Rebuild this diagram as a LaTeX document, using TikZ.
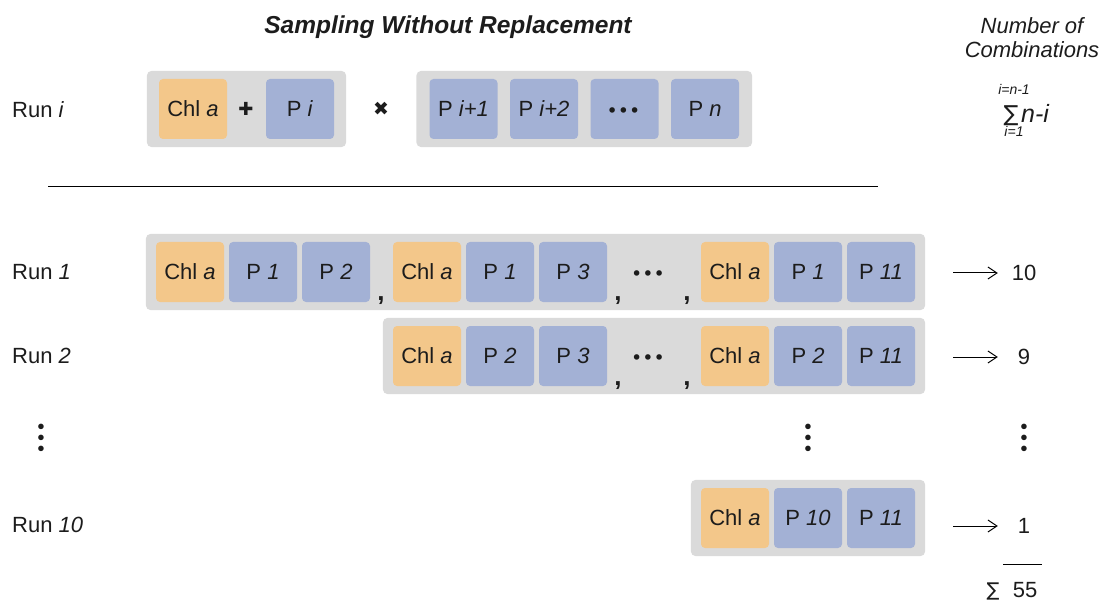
\documentclass[tikz,border=0pt]{standalone}
\usepackage{fontspec}
\setmainfont{Liberation Sans}
\newfontfamily\symfont{DejaVu Sans}
\usetikzlibrary{fit,backgrounds,arrows.meta}

\definecolor{chlcol}{RGB}{243,199,138}
\definecolor{pcol}{RGB}{163,177,213}
\definecolor{grpcol}{RGB}{218,218,218}
\definecolor{txtcol}{RGB}{28,28,28}

\begin{document}
\begin{tikzpicture}[x = 1pt, y = -1pt,
	every node/.style = {text = txtcol, font = \fontsize{22}{24}\selectfont},
	cell/.style = {rounded corners = 4pt, minimum width = 68pt, minimum height = 60pt, inner sep = 0pt},
	chl/.style = {cell, fill = chlcol},
	pig/.style = {cell, fill = pcol},
	grp/.style = {fill = grpcol, rounded corners = 5pt, inner xsep = 10pt, inner ysep = 8pt},
	lbl/.style = {anchor = west, inner sep = 0pt},
	sep/.style = {font = \fontsize{26}{26}\selectfont\bfseries, anchor = base, inner sep = 0pt},
	dotrow/.style = {font = \fontsize{19}{19}\selectfont\symfont, inner sep = 0pt},
	dotcol/.style = {dotrow, rotate = 90},
	cnt/.style = {minimum width = 52pt, inner sep = 0pt},
	cntarrow/.style = {-{Straight Barb[length = 9pt, width = 12pt]}, line width = 1pt}]
	\useasboundingbox (0,0) rectangle (1107,601);
	
	% headings
	\node[font = \fontsize{24.5}{26}\selectfont\bfseries\itshape](title) at (448,27) {Sampling Without Replacement};
	\node[align = center, font = \fontsize{22}{24}\selectfont\itshape](head) at (1032,38) {Number of\\Combinations};
	\node[font = \fontsize{22}{22}\selectfont\symfont](sumsym) at (1011,116) {∑};
	\node[anchor = west, inner sep = 0pt, font = \fontsize{25}{26}\selectfont\itshape](sumterm) at (1021,113) {n-i};
	\node[font = \fontsize{14}{14}\selectfont\itshape](sumup) at (1014,89) {i=n-1};
	\node[font = \fontsize{14}{14}\selectfont\itshape](sumlow) at (1014,131) {i=1};
	
	% run i
	\node[lbl](runi) at (12,110) {Run \textit{i}};
	\node[chl](chli) at (193,109) {Chl \textit{a}};
	\node[font = \fontsize{18}{18}\selectfont\symfont](plus) at (246,109) {✚};
	\node[pig](pi) at (300,109) {P \textit{i}};
	\node[font = \fontsize{19}{19}\selectfont\symfont](times) at (381,109) {✖};
	\node[pig](pia) at (463.5,109) {P \textit{i+1}};
	\node[pig](pib) at (544,109) {P \textit{i+2}};
	\node[pig](pidots) at (624.5,109) {};
	\node[dotrow](dia) at (623.5,113) {•••};
	\node[pig](pn) at (705,109) {P \textit{n}};
	
	\coordinate[](ruleL) at (48,186);
	\coordinate[](ruleR) at (878,186);
	\draw[line width = 0.9pt] (ruleL) -- (ruleR);
	
	% run 1
	\node[lbl](runa) at (12,272) {Run \textit{1}};
	\node[chl](ca1) at (190,272) {Chl \textit{a}};
	\node[pig](pa1) at (263,272) {P \textit{1}};
	\node[pig](pa2) at (336,272) {P \textit{2}};
	\node[sep](ka1) at (381,301) {,};
	\node[chl](ca2) at (427,272) {Chl \textit{a}};
	\node[pig](pa3) at (500,272) {P \textit{1}};
	\node[pig](pa4) at (573,272) {P \textit{3}};
	\node[sep](ka2) at (618,301) {,};
	\node[dotrow](da) at (648,276) {•••};
	\node[sep](ka3) at (687,301) {,};
	\node[chl](ca3) at (735,272) {Chl \textit{a}};
	\node[pig](pa5) at (808,272) {P \textit{1}};
	\node[pig](pa6) at (881,272) {P \textit{11}};
	
	% run 2
	\node[lbl](runb) at (12,356) {Run \textit{2}};
	\node[chl](cb1) at (427,356) {Chl \textit{a}};
	\node[pig](pb1) at (500,356) {P \textit{2}};
	\node[pig](pb2) at (573,356) {P \textit{3}};
	\node[sep](kb1) at (618,385) {,};
	\node[dotrow](db) at (648,360) {•••};
	\node[sep](kb2) at (687,385) {,};
	\node[chl](cb2) at (735,356) {Chl \textit{a}};
	\node[pig](pb3) at (808,356) {P \textit{2}};
	\node[pig](pb4) at (881,356) {P \textit{11}};
	
	% vertical dots
	\node[dotcol](vdl) at (44,438) {•••};
	\node[dotcol](vdm) at (811,438) {•••};
	\node[dotcol](vdr) at (1027,438) {•••};
	
	% run 10
	\node[lbl](runc) at (12,525) {Run \textit{10}};
	\node[chl](cc1) at (735,518) {Chl \textit{a}};
	\node[pig](pc1) at (808,518) {P \textit{10}};
	\node[pig](pc2) at (881,518) {P \textit{11}};
	
	\begin{scope}[on background layer]
		\node[grp, inner xsep = 12pt, fit = (chli)(pi)](gi) {};
		\node[grp, inner xsep = 13pt, fit = (pia)(pn)](gn) {};
		\node[grp, fit = (ca1)(pa6)](ga) {};
		\node[grp, fit = (cb1)(pb4)](gb) {};
		\node[grp, fit = (cc1)(pc2)](gc) {};
	\end{scope}
	
	% counts
	\coordinate[](aa) at (953,273);
	\coordinate[](ab) at (953,357);
	\coordinate[](ac) at (953,526);
	\node[cnt](na) at (1024,273) {10};
	\node[cnt](nb) at (1024,357) {9};
	\node[cnt](nc) at (1024,526) {1};
	\draw[cntarrow] (aa) -- (na);
	\draw[cntarrow] (ab) -- (nb);
	\draw[cntarrow] (ac) -- (nc);
	
	\coordinate[](barL) at (1003,564);
	\coordinate[](barR) at (1042,564);
	\draw[line width = 0.9pt] (barL) -- (barR);
	\node[font = \fontsize{19}{20}\selectfont\symfont](sigma) at (993,591) {∑};
	\node(total) at (1025,590) {55};
\end{tikzpicture}
\end{document}
